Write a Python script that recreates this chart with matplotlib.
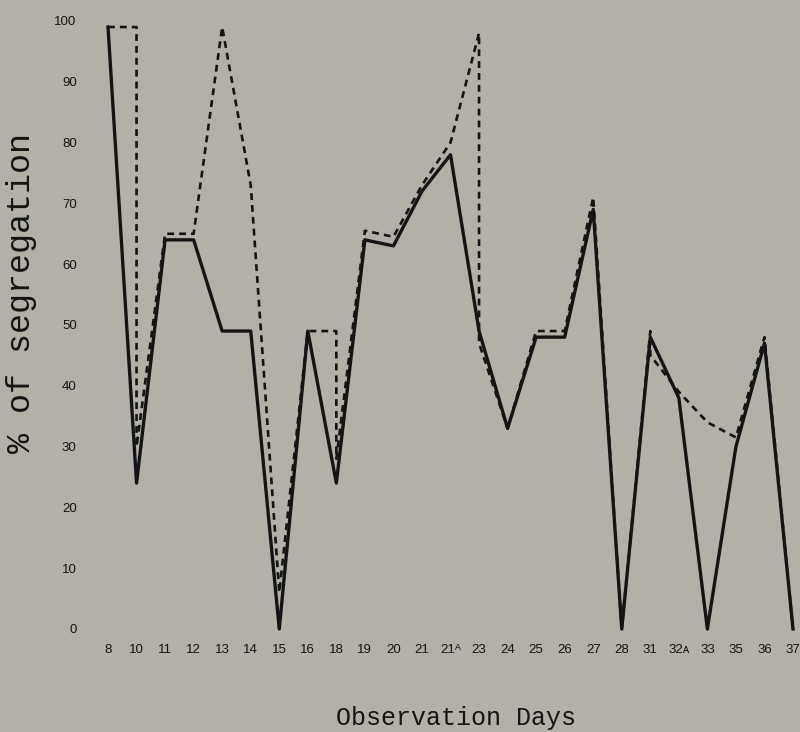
import matplotlib
matplotlib.use("Agg")
import matplotlib.pyplot as plt

# observation days (category labels on the x axis)
days = ['8', '10', '11', '12', '13', '14', '15', '16', '18', '19', '20', '21', '21ᴬ',
        '23', '24', '25', '26', '27', '28', '31', '32ᴀ', '33', '35', '36', '37']

# solid series: one value per day
solid_vals = [99, 24, 64, 64, 49, 49, 0, 49, 24, 64, 63, 72, 78,
              49, 33, 48, 48, 69, 0, 48, 38, 0, 30, 47, 0]

# dashed series: some days carry two points (vertical drops)
dashed_days = ['8', '10', '10', '11', '12', '13', '14', '15', '16', '18', '18', '19', '20',
               '21', '21ᴬ', '23', '23', '24', '25', '26', '27', '28', '31', '31', '32ᴀ',
               '33', '35', '36', '37']
dashed_vals = [99, 99, 30, 65, 65, 99, 73, 6, 49, 49, 28, 65.5, 64.5,
               73, 80, 98, 47, 33, 49, 49, 71, 0, 49, 45, 39,
               34, 31.5, 48, 0]

y_ticks = [0, 10, 20, 30, 40, 50, 60, 70, 80, 90, 100]

bg = '#b3b1a7'
ink = '#141414'
tick_font = ['Liberation Sans', 'DejaVu Sans']
mono_font = ['Liberation Mono', 'DejaVu Sans Mono']

fig = plt.figure(figsize=(8, 7.32), dpi=100, facecolor=bg)
ax = fig.add_axes([85 / 800, 92 / 732, 715 / 800, 630 / 732])
ax.set_facecolor(bg)

x_solid = list(range(len(days)))
x_dashed = [days.index(d) for d in dashed_days]

ax.plot(x_solid, solid_vals, color=ink, lw=2.4, solid_joinstyle='round')
ax.plot(x_dashed, dashed_vals, color=ink, lw=1.9, dashes=(2.6, 1.9))

ax.set_xlim(-0.806, 24.245)
ax.set_ylim(-1.81, 101.8)

ax.set_xticks(x_solid)
ax.set_xticklabels(days, family=tick_font, fontsize=9.5, color=ink)
ax.set_yticks(y_ticks)
ax.set_yticklabels([str(v) for v in y_ticks], family=tick_font, fontsize=9.5, color=ink)
ax.tick_params(axis='both', length=0)
ax.tick_params(axis='x', pad=3)
ax.tick_params(axis='y', pad=6)

for s in ax.spines.values():
    s.set_visible(False)

fig.text(22 / 800, 1 - 293 / 732, '% of segregation', rotation=90,
         ha='center', va='center', family=mono_font, fontsize=24, color=ink)
fig.text(456 / 800, 1 - 718 / 732, 'Observation Days',
         ha='center', va='center', family=mono_font, fontsize=18, color=ink)

fig.savefig('out.png', dpi=100, facecolor=bg)
